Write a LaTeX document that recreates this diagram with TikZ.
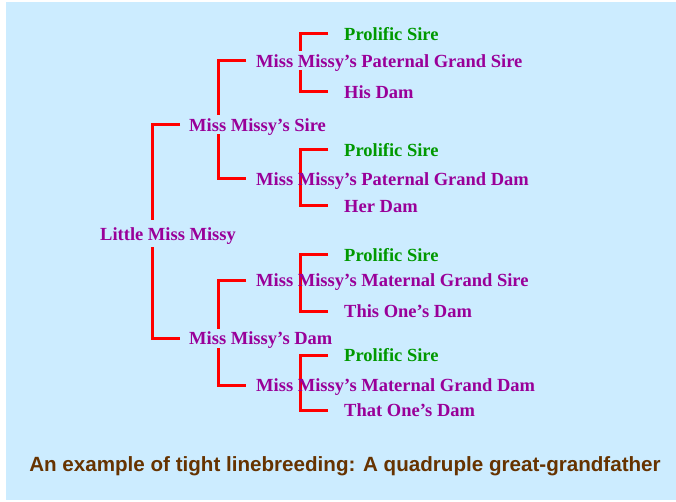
\documentclass[tikz,border=0pt]{standalone}
\usepackage{fontspec}
\setmainfont{Liberation Serif}
\newfontfamily\capfont{Liberation Sans}
\usepackage{tikz}
\definecolor{skyback}{HTML}{CCECFF}
\definecolor{pedpurple}{HTML}{990099}
\definecolor{siregreen}{HTML}{009900}
\definecolor{capbrown}{HTML}{663300}
\pgfdeclarelayer{background}
\pgfsetlayers{background,main}

\begin{document}
\begin{tikzpicture}
		[x=1pt,y=-1pt,every node/.style={anchor=west,inner xsep=0pt,inner ysep=0pt,text height=13pt,text depth=0pt,text=pedpurple,font=\fontsize{18.5}{20}\selectfont\bfseries},sire/.style={text=siregreen},cover/.style={fill=skyback,inner ysep=3pt},edge/.style={draw=red,line width=3pt}]
		\useasboundingbox (0,0) rectangle (676,502);
		\node[cover,inner ysep=7pt] (lmm) at (100,234) {Little Miss Missy};
		\node[cover] (sire) at (189,125) {Miss Missy’s Sire};
		\node[cover] (dam) at (189,338) {Miss Missy’s Dam};
		\node[cover] (pgs) at (256,61) {Miss Missy’s Paternal Grand Sire};
		\node (pgd) at (256,179) {Miss Missy’s Paternal Grand Dam};
		\node (mgs) at (256,280) {Miss Missy’s Maternal Grand Sire};
		\node (mgd) at (256,385) {Miss Missy’s Maternal Grand Dam};
		\node[sire] (ps1) at (344,34) {Prolific Sire};
		\node (hisdam) at (344,92) {His Dam};
		\node[sire] (ps2) at (344,150) {Prolific Sire};
		\node (herdam) at (344,206) {Her Dam};
		\node[sire] (ps3) at (344,255) {Prolific Sire};
		\node (thisdam) at (344,311) {This One’s Dam};
		\node[sire] (ps4) at (344,355) {Prolific Sire};
		\node (thatdam) at (344,410) {That One’s Dam};
		\node[anchor=center,text=capbrown,font=\capfont\bfseries\fontsize{20.6}{24}\selectfont] (caption) at (345,465) {An example of tight linebreeding: A quadruple great-grandfather};
		
		\begin{pgfonlayer}{background}
		\fill[skyback] (6,2) rectangle (676,500);
		\foreach \up/\down/\gap in {ps1/hisdam/16pt,ps2/herdam/16pt,ps3/thisdam/16pt,ps4/thatdam/16pt,pgs/pgd/10pt,mgs/mgd/10pt,sire/dam/9pt}
		\draw[edge] ([xshift=-\gap]\up.west) -- ++(-28,0) |- ([xshift=-\gap]\down.west);
		\end{pgfonlayer}
		\end{tikzpicture}
\end{document}
